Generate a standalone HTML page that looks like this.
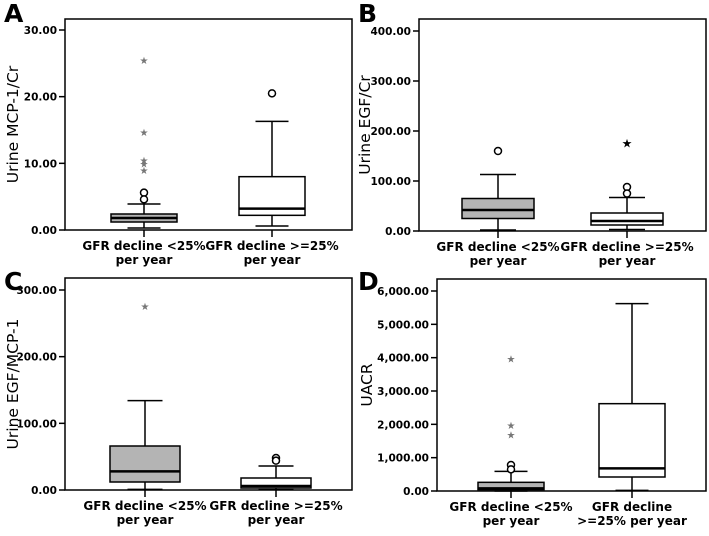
<!DOCTYPE html>
<html><head><meta charset="utf-8"><style>
body{margin:0;background:#fff;width:709px;height:531px;overflow:hidden}
svg text{font-family:"DejaVu Sans","Liberation Sans",sans-serif}
</style></head><body>
<svg id="s" width="709" height="531" xmlns="http://www.w3.org/2000/svg"></svg>
<script>
const categories=["GFR decline <25%|per year","GFR decline >=25%|per year"];
const catsD=["GFR decline <25%|per year","GFR decline|>=25% per year"];
// [min, q1, median, q3, max]
const aBox=[[0.3,1.2,1.8,2.4,3.9],[0.6,2.2,3.2,8.0,16.3]];
const aCirc=[[5.6,4.6],[20.5]];
const aStar=[[25.5,14.7,10.5,10.0,9.0],[]];
const aTicks=[0,10,20,30];
const bBox=[[2,25,42,65,113],[3,12,20,36,67]];
const bCirc=[[160],[88,75]];
const bStar=[[],[175]];
const bTicks=[0,100,200,300,400];
const cBox=[[1,12,28,66,134],[0.5,3,6,18,36]];
const cCirc=[[],[48,44]];
const cStar=[[276],[]];
const cTicks=[0,100,200,300];
const dBox=[[0,40,80,260,590],[20,420,680,2620,5620]];
const dCirc=[[780,650],[]];
const dStar=[[3980,1980,1700],[]];
const dTicks=[0,1000,2000,3000,4000,5000,6000];

const S=document.getElementById('s');
const NS='http://www.w3.org/2000/svg';
function mk(tag,attrs,parent){const e=document.createElementNS(NS,tag);for(const k in attrs)e.setAttribute(k,attrs[k]);(parent||S).appendChild(e);return e;}
function fmt(v){return v.toLocaleString('en-US',{minimumFractionDigits:2,maximumFractionDigits:2});}

function panel(p){
  const g=mk('g',{});
  
  
  const ymax=p.ticks[p.ticks.length-1];
  const y=v=>p.y0-(v/ymax)*(p.y0-p.yTop);
  const lt=mk('text',{x:p.lx,y:p.ly,'font-size':25,'font-weight':'bold'},g);lt.textContent=p.letter;
  
  const fr=mk('rect',{x:p.L,y:p.T,width:p.R-p.L,height:p.B-p.T,fill:'none',stroke:'#000','stroke-width':1.5},g);
  
  p.ticks.forEach(t=>{
    mk('line',{x1:p.L-6,x2:p.L,y1:y(t),y2:y(t),stroke:'#000','stroke-width':1.5},g);
    const tx=mk('text',{x:p.L-8,y:y(t)+4,'font-size':10.5,'font-weight':'bold','text-anchor':'end'},g);
    tx.textContent=fmt(t);
    
  });
  const yt=mk('text',{x:0,y:0,'font-size':15.5,'text-anchor':'middle',transform:`translate(${p.tx},${(p.T+p.B)/2}) rotate(-90)`},g);
  yt.textContent=p.title;
  
  p.box.forEach((b,i)=>{
    const cx=p.cx[i],hw=p.hw;
    mk('line',{x1:cx,x2:cx,y1:p.B,y2:p.B+7,stroke:'#000','stroke-width':1.5},g);
    const lines=p.cats[i].split('|');
    lines.forEach((ln,k)=>{const t=mk('text',{x:cx,y:p.B+20+k*14,'font-size':12,'font-weight':'bold','text-anchor':'middle'},g);t.textContent=ln;
      });
    const bg=mk('g',{},g);
    
    mk('line',{x1:cx,x2:cx,y1:y(b[0]),y2:y(b[1]),stroke:'#000','stroke-width':1.5},bg);
    mk('line',{x1:cx,x2:cx,y1:y(b[3]),y2:y(b[4]),stroke:'#000','stroke-width':1.5},bg);
    mk('line',{x1:cx-hw/2,x2:cx+hw/2,y1:y(b[0]),y2:y(b[0]),stroke:'#000','stroke-width':1.5},bg);
    mk('line',{x1:cx-hw/2,x2:cx+hw/2,y1:y(b[4]),y2:y(b[4]),stroke:'#000','stroke-width':1.5},bg);
    mk('rect',{x:cx-hw,y:y(b[3]),width:2*hw,height:y(b[1])-y(b[3]),fill:i===0?'#b4b4b4':'#fff',stroke:'#000','stroke-width':1.5},bg);
    mk('line',{x1:cx-hw,x2:cx+hw,y1:y(b[2]),y2:y(b[2]),stroke:'#000','stroke-width':2.5},bg);
    p.circ[i].forEach(v=>{const c=mk('circle',{cx:cx,cy:y(v),r:3.5,fill:'#fff',stroke:'#000','stroke-width':1.5},g);
      });
    p.star[i].forEach(v=>{const st=mk('text',{x:cx,y:y(v)+4,'font-size':p.starDark?12:10,'text-anchor':'middle',fill:p.starDark?'#000':'#777'},g);st.textContent='★';
      });
  });
}
panel({letter:'A',lx:4,ly:22,L:65,T:19,R:352,B:230,yTop:30,y0:230,ticks:aTicks,title:'Urine MCP-1/Cr',tx:18,cx:[144,272],hw:33,box:aBox,circ:aCirc,star:aStar,cats:categories});
panel({letter:'B',lx:358,ly:22,L:419,T:19,R:706,B:231,yTop:31,y0:231,ticks:bTicks,title:'Urine EGF/Cr',tx:370,cx:[498,627],hw:36,box:bBox,circ:bCirc,star:bStar,cats:categories,starDark:true});
panel({letter:'C',lx:4,ly:290,L:65,T:278,R:352,B:490,yTop:290,y0:490,ticks:cTicks,title:'Urine EGF/MCP-1',tx:18,cx:[145,276],hw:35,box:cBox,circ:cCirc,star:cStar,cats:categories});
panel({letter:'D',lx:358,ly:290,L:437,T:279,R:706,B:491,yTop:291,y0:491,ticks:dTicks,title:'UACR',tx:372,cx:[511,632],hw:33,box:dBox,circ:dCirc,star:dStar,cats:catsD});
</script>
</body></html>
